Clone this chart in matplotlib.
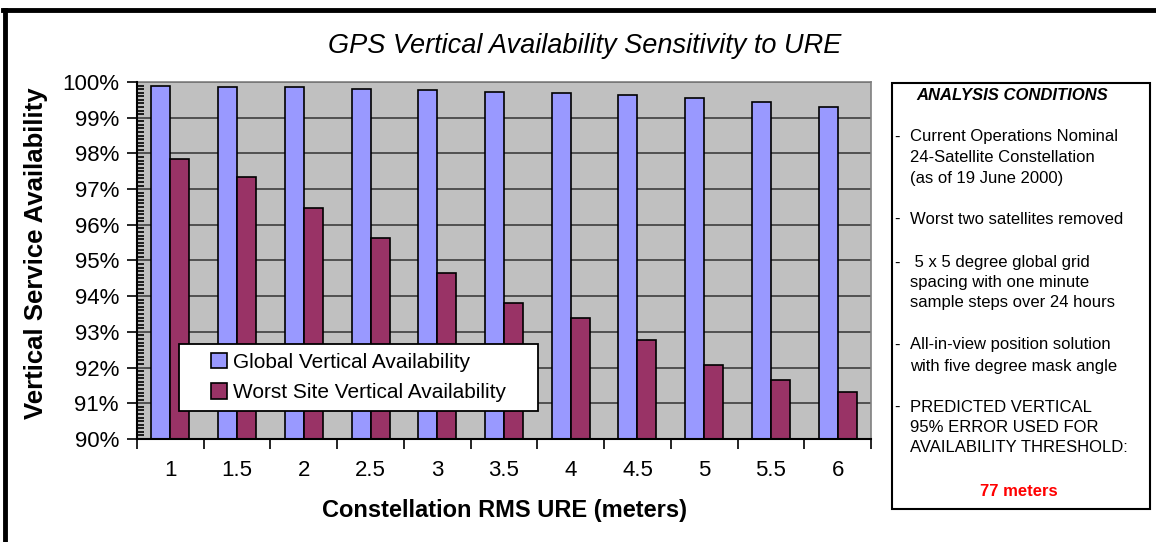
import matplotlib.pyplot as plt
import numpy as np
from matplotlib.lines import Line2D
from matplotlib.patches import Rectangle
from matplotlib.ticker import MultipleLocator, FixedLocator, NullFormatter

plt.rcParams['font.family'] = ['Liberation Sans', 'DejaVu Sans']

# data
ure = ['1', '1.5', '2', '2.5', '3', '3.5', '4', '4.5', '5', '5.5', '6']
global_avail = [99.89, 99.87, 99.85, 99.81, 99.77, 99.72, 99.68, 99.63, 99.54, 99.44, 99.30]
worst_avail = [97.84, 97.35, 96.46, 95.62, 94.65, 93.82, 93.40, 92.77, 92.07, 91.65, 91.31]
y_ticks = [90, 91, 92, 93, 94, 95, 96, 97, 98, 99, 100]

conditions = [
    ('-', 'Current Operations Nominal'),
    ('', '24-Satellite Constellation'),
    ('', '(as of 19 June 2000)'),
    ('-', 'Worst two satellites removed'),
    ('-', ' 5 x 5 degree global grid'),
    ('', 'spacing with one minute'),
    ('', 'sample steps over 24 hours'),
    ('-', 'All-in-view position solution'),
    ('', 'with five degree mask angle'),
    ('-', 'PREDICTED VERTICAL'),
    ('', '95% ERROR USED FOR'),
    ('', 'AVAILABILITY THRESHOLD:'),
]
line_y = [137, 157, 178, 219, 263, 283, 303, 345, 366, 407, 428, 448]

W, H = 1156, 542
fig = plt.figure(figsize=(W / 100, H / 100), dpi=100)

def fx(px):
    return px / W

def fy(py):
    return 1 - py / H

ax = fig.add_axes([fx(137), fy(439), fx(871) - fx(137), fy(82) - fy(439)])
ax.set_facecolor('#C0C0C0')

x = np.arange(len(ure))
w = 0.285
ax.bar(x - w / 2, np.array(global_avail) - 90, w, bottom=90, color='#9999FF',
       edgecolor='black', linewidth=1.2, label='Global Vertical Availability', zorder=3)
ax.bar(x + w / 2, np.array(worst_avail) - 90, w, bottom=90, color='#993366',
       edgecolor='black', linewidth=1.2, label='Worst Site Vertical Availability', zorder=3)

ax.set_xlim(-0.5, len(ure) - 0.5)
ax.set_ylim(90, 100)
ax.set_yticks(y_ticks)
ax.set_yticklabels([f'{v}%' for v in y_ticks])
ax.yaxis.set_minor_locator(MultipleLocator(0.1))
ax.tick_params(axis='y', which='major', direction='out', length=7, width=1.2, labelsize=16, pad=6)
ax.tick_params(axis='y', which='minor', direction='in', length=5, width=1.2)

ax.xaxis.set_major_locator(FixedLocator(np.arange(-0.5, len(ure), 1.0)))
ax.xaxis.set_major_formatter(NullFormatter())
ax.xaxis.set_minor_locator(FixedLocator(x))
ax.set_xticklabels(ure, minor=True)
ax.tick_params(axis='x', which='major', direction='out', length=7, width=1.2)
ax.tick_params(axis='x', which='minor', length=0, labelsize=16, pad=15)

ax.grid(axis='y', which='major', color='#333333', linewidth=1.1, zorder=1)
ax.set_axisbelow(True)
for s in ['top', 'right']:
    ax.spines[s].set_color('#808080')
    ax.spines[s].set_linewidth(1.2)
for s in ['left', 'bottom']:
    ax.spines[s].set_color('black')
    ax.spines[s].set_linewidth(1.5)
    ax.spines[s].set_zorder(4)

fig.text(fx(504), fy(510), 'Constellation RMS URE (meters)', fontsize=17,
         fontweight='bold', ha='center', va='center')
fig.text(fx(36), fy(253), 'Vertical Service Availability', rotation=90, fontsize=18.5,
         fontweight='bold', ha='center', va='center')

# legend: white box drawn separately, entries centered in it
lx0, lx1, ly0, ly1 = 179, 538, 344, 411
ax.add_patch(Rectangle((fx(lx0), fy(ly1)), fx(lx1) - fx(lx0), fy(ly0) - fy(ly1),
                       transform=fig.transFigure, facecolor='white', edgecolor='black',
                       linewidth=1.3, zorder=5, clip_on=False))
leg = ax.legend(loc='center', bbox_to_anchor=(fx(lx0), fy(ly1), fx(lx1) - fx(lx0), fy(ly0) - fy(ly1)),
                bbox_transform=fig.transFigure, fontsize=15, frameon=False,
                handlelength=0.75, handleheight=0.75, handletextpad=0.3,
                borderpad=0.2, labelspacing=0.55)
leg.set_zorder(6)

fig.text(fx(585), fy(46), 'GPS Vertical Availability Sensitivity to URE', fontsize=19.5,
         style='italic', ha='center', va='center')

# analysis conditions box
fig.patches.append(Rectangle((fx(892), fy(509)), fx(1150) - fx(892), fy(83) - fy(509),
                             transform=fig.transFigure, facecolor='white',
                             edgecolor='black', linewidth=1.5))
fig.text(fx(1012), fy(96), 'ANALYSIS CONDITIONS', fontsize=12, fontweight='bold',
         style='italic', ha='center', va='center')
for (dash, txt), yy in zip(conditions, line_y):
    if dash:
        fig.text(fx(894), fy(yy), '-', fontsize=12, ha='left', va='center')
    fig.text(fx(910), fy(yy), txt, fontsize=12, ha='left', va='center')
fig.text(fx(1019), fy(491), '77 meters', fontsize=12, fontweight='bold', color='red',
         ha='center', va='center')

# outer frame (top and left edges visible)
fig.add_artist(Line2D([fx(3), 1], [fy(10), fy(10)], color='black', linewidth=3.5,
                      transform=fig.transFigure))
fig.add_artist(Line2D([fx(5), fx(5)], [fy(10), 0], color='black', linewidth=3.5,
                      transform=fig.transFigure))

fig.savefig('out.png', dpi=100)
